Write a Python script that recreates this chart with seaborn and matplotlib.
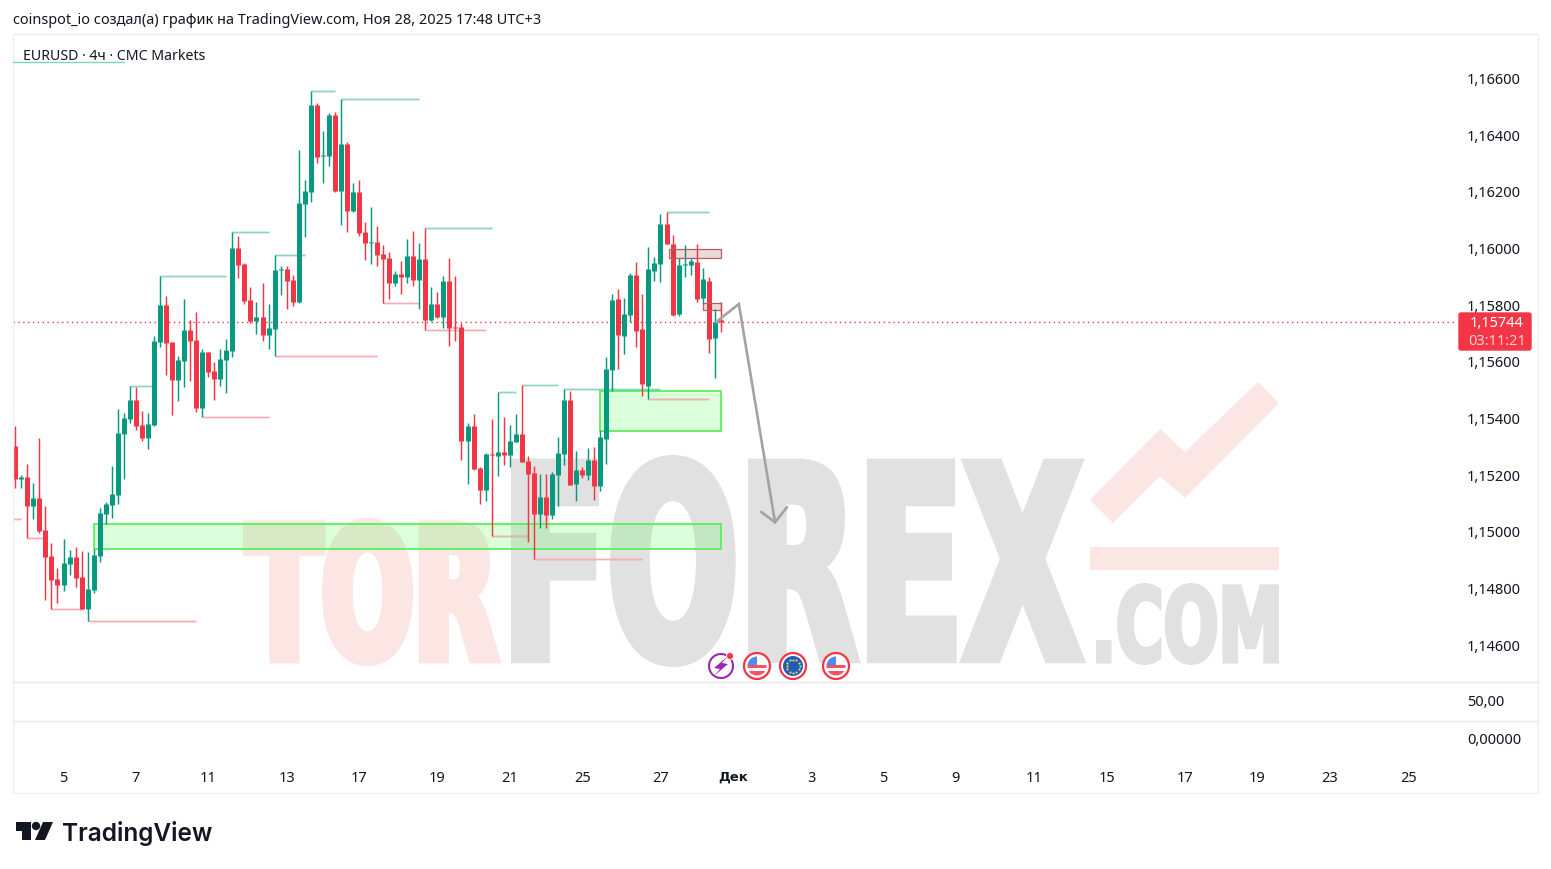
import numpy as np
import pandas as pd
import seaborn as sns
import matplotlib
matplotlib.use('Agg')
import matplotlib.pyplot as plt
import matplotlib.patheffects as pe
from matplotlib.patches import Rectangle, Polygon, Circle, FancyBboxPatch
from matplotlib.transforms import Affine2D, ScaledTranslation

# 4h candles, prices in 1e-5
opens = [115305,115189,115195,115094,115121,115008,114916,114835,114815,114888,114913,114842,114729,114797,114917,115065,115096,115132,115347,115400,
         115467,115379,115333,115379,115672,115802,115672,115538,115605,115714,115679,115439,115636,115569,115541,115608,115640,116004,115947,115820,
         115746,115760,115696,115718,115926,115929,115891,115813,116159,116201,116508,116328,116328,116473,116205,116371,116134,116201,116060,116021,
         116025,115982,115968,115880,115912,115901,115975,115891,115965,115749,115806,115760,115887,115725,115725,115322,115375,115227,115149,115276,
         115269,115283,115273,115319,115347,115252,115209,115065,115125,115061,115202,115276,115467,115170,115220,115202,115255,115163,115329,115573,
         115824,115693,115767,115908,115718,115516,115922,115947,116088,116018,115771,115944,115944,115954,115827,115887,115686,115748]
highs = [115375,115202,115241,115174,115333,115093,114962,114874,114976,114938,114948,114934,114930,114941,115086,115107,115234,115435,115421,115517,
         115513,115428,115421,115693,115905,115834,115672,115622,115824,115749,115778,115647,115636,115601,115647,115682,116060,116046,115951,115866,
         115813,115880,115806,115979,115940,115940,115908,116350,116244,116558,116515,116417,116480,116484,116530,116378,116233,116244,116095,116148,
         116081,116014,115989,115922,115958,116035,116064,116021,116074,115866,115848,115905,115968,115905,115739,115386,115418,115230,115280,115400,
         115495,115407,115379,115418,115520,115269,115234,115206,115206,115213,115336,115506,115499,115287,115230,115298,115301,115361,115619,115841,
         115859,115827,115915,115954,115841,116007,115972,116124,116131,116049,115968,116014,115968,116018,115933,115901,115788,115813]
lows = [115157,115157,114980,115047,114998,114761,114729,114750,114794,114849,114808,114729,114687,114787,114896,115029,115050,115100,115188,115386,
        115361,115322,115294,115375,115654,115555,115414,115463,115513,115534,115425,115407,115548,115467,115516,115492,115619,115898,115806,115739,
        115700,115675,115647,115622,115838,115788,115799,115809,116042,116166,116304,116233,116293,116201,116085,116060,116131,116046,115961,115947,
        115940,115809,115824,115869,115841,115880,115869,115788,115714,115746,115756,115721,115658,115675,115255,115170,115220,115100,115110,114987,
        115199,115238,115230,115319,115248,114966,114906,115015,115015,115047,115093,115238,115167,115110,115192,115185,115114,115146,115241,115499,
        115576,115629,115742,115654,115481,115471,115887,115884,116018,115764,115764,115901,115908,115813,115806,115633,115545,115707]
closes = [115189,115195,115094,115121,115005,114914,114833,114815,114892,114913,114840,114729,114800,114920,115068,115100,115135,115350,115403,115467,
          115375,115333,115382,115675,115802,115668,115538,115608,115714,115675,115439,115636,115566,115541,115612,115643,116004,115944,115816,115746,
          115760,115696,115721,115926,115929,115887,115813,116162,116205,116508,116325,116332,116473,116205,116371,116134,116201,116057,116021,116025,
          115979,115965,115880,115912,115901,115975,115891,115965,115749,115806,115760,115887,115721,115721,115322,115375,115223,115149,115276,115273,
          115283,115273,115322,115347,115248,115206,115065,115125,115061,115206,115280,115467,115167,115220,115202,115255,115163,115336,115576,115820,
          115696,115771,115908,115711,115523,115929,115951,116088,116018,115767,115944,115947,115958,115824,115894,115682,115742,115744]

last_price = 1.15744
price_ticks = [1.146, 1.148, 1.150, 1.152, 1.154, 1.156, 1.158, 1.160, 1.162, 1.164, 1.166]

# day labels sit on bar numbers of the time scale
date_pos = [8, 20, 32, 45, 57, 70, 82, 94, 107, 119, 132, 144, 156, 169, 181, 194, 206, 218, 231]
date_labels = ['5', '7', '11', '13', '17', '19', '21', '25', '27', 'Дек', '3', '5', '9', '11', '15', '17', '19', '23', '25']

# swing levels: start bar, end bar, price
high_start = [19, 24, 36, 43, 49, 54, 68, 80, 84, 91, 108]
high_end = [22.7, 35, 42, 48, 53, 67, 79, 83, 90, 107, 115]
high_price = [1.15517, 1.15905, 1.16060, 1.15979, 1.16558, 1.16530, 1.16074, 1.15495, 1.15520, 1.15506, 1.16131]
low_start = [-0.4, 2, 6, 12, 31, 43, 61, 68, 79, 86, 105]
low_end = [1, 4.7, 11, 30, 42, 60, 67, 78, 85, 104, 115]
low_price = [1.15047, 1.14980, 1.14729, 1.14687, 1.15407, 1.15624, 1.15809, 1.15714, 1.14987, 1.14906, 1.15471]

# zones
green_left = [13, 97]
green_right = [117, 117]
green_low = [1.14941, 1.15358]
green_high = [1.15029, 1.15499]
pink_left = [108.4, 114]
pink_right = [117, 117]
pink_low = [1.15968, 1.15785]
pink_high = [1.15999, 1.15809]

# drawn forecast arrow
arrow_x = [116.2, 120, 126]
arrow_y = [1.15742, 1.15806, 1.15036]
head_x = [123.7, 126, 128]
head_y = [1.15072, 1.15036, 1.15089]

sns.set_theme(style='white')
plt.rcParams['font.family'] = ['Noto Sans', 'DejaVu Sans']

W, H = 1551, 869
GREEN, RED = '#089981', '#f23645'
INK = '#131722'
TICK_SIZE = 10.5


class FitBox(pe.AbstractPathEffect):
    # stretch the glyphs into a box given in picture pixels, for the watermark
    def __init__(self, x0, x1, top, bottom, stroke):
        super().__init__()
        self.box = (x0, x1, top, bottom)
        self.stroke = stroke

    def draw_path(self, renderer, gc, tpath, affine, rgbFace=None):
        x0, x1, top, bottom = self.box
        s = self.stroke * 100 / 72
        ext = tpath.get_extents(affine)
        a = (affine + Affine2D().translate(-ext.x0, -ext.y0)
             .scale((x1 - x0 - s) / ext.width, (bottom - top - s) / ext.height)
             .translate(x0 + s / 2, H - bottom + s / 2))
        gc0 = renderer.new_gc()
        gc0.copy_properties(gc)
        gc0.set_linewidth(self.stroke)
        gc0.set_foreground(rgbFace)
        gc0.set_joinstyle('miter')
        renderer.draw_path(gc0, tpath, a, rgbFace)
        gc0.restore()


df = pd.DataFrame({'open': opens, 'high': highs, 'low': lows, 'close': closes}) / 100000
df['bar'] = df.index
df['side'] = np.where(df['close'] >= df['open'], 'up', 'down')

wicks = df.melt(id_vars=['bar', 'side'], value_vars=['low', 'high'], value_name='price')
bodies = df.melt(id_vars=['bar', 'side'], value_vars=['open', 'close'], value_name='price')

fig = plt.figure(figsize=(W / 100, H / 100), dpi=100, facecolor='white')
ax = fig.add_axes([13 / W, 1 - 682 / H, (1457 - 13) / W, (682 - 34) / H])
ov = fig.add_axes([0, 0, 1, 1])
ov.set_xlim(0, W)
ov.set_ylim(H, 0)
ov.axis('off')

# watermark, placed in pixels of the picture and under the candles
PINK_W, GREY_W = '#fbe6e4', '#e1e1e1'
marks = [('TOR', 80, 243, 500, 518, 666, PINK_W), ('FOREX', 110, 511, 1084, 455, 667, GREY_W), ('.COM', 44, 1096, 1279, 583, 665, GREY_W)]
for txt, size, x0, x1, top, bottom, col in marks:
    t = ax.text(x0, bottom, txt, transform=ov.transData, fontsize=size, fontweight='bold', family='DejaVu Sans',
                color=col, va='baseline', ha='left', zorder=0, clip_on=False)
    t.set_path_effects([FitBox(x0, x1, top, bottom, 7 if size > 50 else 3)])
ax.add_patch(Polygon([(1090, 500), (1160, 429), (1185, 452), (1258, 382), (1279, 403), (1185, 498), (1160, 476), (1113, 523)],
                     transform=ov.transData, facecolor=PINK_W, edgecolor='none', zorder=0))
ax.add_patch(Rectangle((1090, 547), 189, 23, transform=ov.transData, facecolor=PINK_W, edgecolor='none', zorder=0))

for x0, x1, y0, y1 in zip(green_left, green_right, green_low, green_high):
    ax.add_patch(Rectangle((x0, y0), x1 - x0, y1 - y0, facecolor=(0.3, 1, 0.3, 0.2), edgecolor='#55f055', lw=1.25, zorder=1))

ax.hlines(high_price, high_start, high_end, color='#089981', lw=2, alpha=0.16, zorder=2)
ax.hlines(high_price, high_start, high_end, color='#8ad6c5', lw=0.8, zorder=2)
ax.hlines(low_price, low_start, low_end, color='#f23645', lw=2, alpha=0.14, zorder=2)
ax.hlines(low_price, low_start, low_end, color='#f9adb3', lw=0.8, zorder=2)

ax.axhline(last_price, color=RED, lw=1, ls=(0, (1, 2.5)), zorder=2)

palette = {'up': GREEN, 'down': RED}
sns.lineplot(data=wicks, x='bar', y='price', hue='side', units='bar', estimator=None, palette=palette,
             linewidth=1.05, legend=False, ax=ax, zorder=3, solid_capstyle='butt')
sns.lineplot(data=bodies, x='bar', y='price', hue='side', units='bar', estimator=None, palette=palette,
             linewidth=3.6, legend=False, ax=ax, zorder=3, solid_capstyle='butt')

for x0, x1, y0, y1 in zip(pink_left, pink_right, pink_low, pink_high):
    ax.add_patch(Rectangle((x0, y0), x1 - x0, y1 - y0, facecolor=(0.6, 0.2, 0.2, 0.18), edgecolor='#b06060', lw=0.9, zorder=4))

ax.plot(arrow_x, arrow_y, color='#a3a3a3', lw=1.9, zorder=5, solid_joinstyle='miter')
ax.plot(head_x, head_y, color='#a3a3a3', lw=1.9, zorder=5, solid_joinstyle='miter')

ax.set_xlim(-0.38, 239.1)
ax.set_ylim(1.14472, 1.16759)
ax.set_xlabel('')
ax.set_ylabel('')
ax.yaxis.tick_right()
ax.set_yticks(price_ticks, [f'{v:.5f}'.replace('.', ',') for v in price_ticks])
ax.tick_params(axis='y', length=0, pad=7, labelsize=TICK_SIZE, labelcolor=INK)
ax.set_xticks(date_pos, date_labels)
ax.tick_params(axis='x', length=0, pad=64, labelsize=TICK_SIZE, labelcolor=INK)
nudge = ScaledTranslation(0, 0.5 / 100, fig.dpi_scale_trans)
for lab in ax.get_yticklabels():
    lab.set_transform(lab.get_transform() + nudge)
for lab in ax.get_xticklabels():
    if lab.get_text() == 'Дек':
        lab.set_fontweight('bold')
        lab.set_family('DejaVu Sans')
        lab.set_fontsize(9.5)
sns.despine(ax=ax, left=True, right=True, top=True, bottom=True)

# frame and lower panes
LINE = '#e9eaed'
ov.add_patch(Rectangle((13, 34), 1525, 759, facecolor='none', edgecolor='#eeeff1', lw=1))
ov.plot([13, 1538], [682, 682], color=LINE, lw=1)
ov.plot([13, 1538], [721, 721], color=LINE, lw=1)
ov.text(1467, 702, '50,00', fontsize=TICK_SIZE, color=INK, va='center')
ov.text(1467, 740, '0,00000', fontsize=TICK_SIZE, color=INK, va='center')

# header
ov.text(13, 21, 'coinspot_io создал(а) график на TradingView.com, Ноя 28, 2025 17:48 UTC+3', fontsize=10.45, color=INK, va='center')
ov.text(23, 56, 'EURUSD · 4ч · CMC Markets', fontsize=10.2, color=INK, va='center')
ov.plot([13, 124], [62, 62], color='#7fd4c0', lw=1)

# price tag
ov.add_patch(FancyBboxPatch((1459, 313), 72, 37, boxstyle='round,pad=0,rounding_size=2', facecolor=RED, edgecolor=RED, lw=1))
ov.text(1497, 323.5, '1,15744', fontsize=TICK_SIZE, color='white', ha='center', va='center')
ov.text(1497, 341.5, '03:11:21', fontsize=TICK_SIZE, color='#fcd0d4', ha='center', va='center')

# event icons
ov.add_patch(Circle((721, 666), 12, facecolor='white', edgecolor='#9c27b0', lw=1.5))
ov.add_patch(Polygon([(728, 656), (714, 668), (720, 669), (714, 676), (728, 664), (722, 663)], facecolor='#9c27b0', edgecolor='none'))
ov.add_patch(Circle((730, 656), 3.5, facecolor=RED, edgecolor='white', lw=0.6))


def us_icon(cx, cy):
    ov.add_patch(Circle((cx, cy), 13, facecolor='white', edgecolor=RED, lw=1.6))
    inner = Circle((cx, cy), 9.5, facecolor='white', edgecolor='none')
    ov.add_patch(inner)
    for r in [(cx - 10, cy - 1, 20, 3, '#f7525f'), (cx - 10, cy + 5, 20, 5, '#f7525f'), (cx - 10, cy - 10, 10, 9, '#4a8cf0')]:
        p = ov.add_patch(Rectangle(r[:2], r[2], r[3], facecolor=r[4], edgecolor='none'))
        p.set_clip_path(inner)


def eu_icon(cx, cy):
    ov.add_patch(Circle((cx, cy), 13, facecolor='white', edgecolor=RED, lw=1.6))
    ov.add_patch(Circle((cx, cy), 10, facecolor='#1e5dbe', edgecolor='none'))
    ang = np.linspace(0, 2 * np.pi, 12, endpoint=False)
    ov.scatter(cx + 6.5 * np.cos(ang), cy + 6.5 * np.sin(ang), s=2.5, color='#f5d33f', linewidths=0)


us_icon(757, 666)
eu_icon(793, 666)
us_icon(836, 666)

# logo
ov.add_patch(Polygon([(16, 822), (31, 822), (31, 840), (22, 840), (22, 831), (16, 831)], facecolor=INK, edgecolor='none'))
ov.add_patch(Circle((36, 826), 4.2, facecolor=INK, edgecolor='none'))
ov.add_patch(Polygon([(43, 822), (53, 822), (45, 840), (35, 840)], facecolor=INK, edgecolor='none'))
ov.text(62, 833, 'TradingView', fontsize=17.6, fontweight='semibold', family='Inter', color=INK, va='center')

fig.savefig('out.png', dpi=100)
